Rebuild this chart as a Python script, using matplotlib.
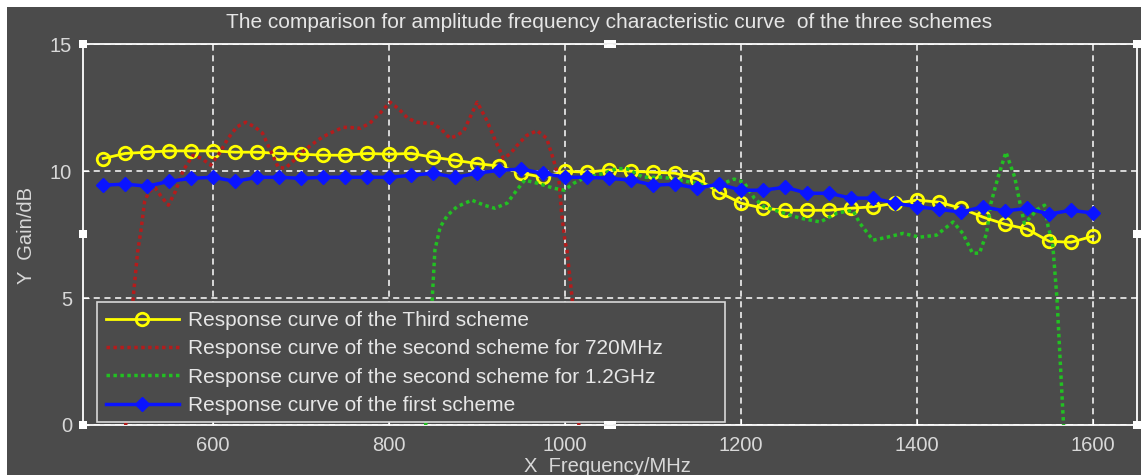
import matplotlib
matplotlib.use("Agg")
import matplotlib.pyplot as plt
from matplotlib.patches import Rectangle
import numpy as np

# ---------------- data ----------------
freq_step = [475, 500, 525, 550, 575, 600, 625, 650, 675, 700, 725, 750, 775, 800, 825, 850,
             875, 900, 925, 950, 975, 1000, 1025, 1050, 1075, 1100, 1125, 1150, 1175, 1200,
             1225, 1250, 1275, 1300, 1325, 1350, 1375, 1400, 1425, 1450, 1475, 1500, 1525,
             1550, 1575, 1600]
third_gain = [10.5, 10.7, 10.75, 10.8, 10.8, 10.8, 10.75, 10.75, 10.7, 10.67, 10.63, 10.63,
              10.7, 10.67, 10.7, 10.55, 10.43, 10.3, 10.2, 9.92, 9.76, 10.0, 9.96, 10.05,
              10.0, 9.96, 9.92, 9.7, 9.17, 8.74, 8.54, 8.46, 8.46, 8.46, 8.54, 8.6, 8.74,
              8.86, 8.78, 8.54, 8.19, 7.91, 7.72, 7.24, 7.2, 7.44]
first_gain = [9.45, 9.49, 9.41, 9.6, 9.72, 9.76, 9.6, 9.76, 9.76, 9.72, 9.76, 9.76, 9.76,
              9.76, 9.84, 9.92, 9.76, 9.92, 10.04, 10.08, 9.92, 9.76, 9.76, 9.72, 9.65,
              9.45, 9.49, 9.33, 9.49, 9.25, 9.25, 9.37, 9.13, 9.13, 8.94, 8.94, 8.74, 8.6,
              8.5, 8.39, 8.6, 8.43, 8.54, 8.31, 8.46, 8.35]

freq_720 = [500, 505, 509, 514, 518, 522, 527, 534, 541, 549, 557, 566, 577, 587, 597, 607,
            617, 627, 637, 647, 656, 664, 674, 682, 691, 701, 712, 724, 736, 748, 757, 767,
            778, 790, 801, 811, 821, 831, 840, 849, 858, 869, 877, 885, 893, 900, 911, 922,
            930, 938, 945, 956, 968, 979, 987, 993, 996, 1000, 1002, 1008, 1012, 1016]
gain_720 = [-0.3, 2.5, 5.0, 6.8, 7.7, 8.8, 9.2, 9.35, 9.0, 8.66, 9.2, 10.04, 10.63, 10.5,
            10.24, 10.7, 11.3, 11.75, 11.93, 11.75, 11.5, 10.9, 10.15, 10.12, 10.4, 10.75,
            11.05, 11.34, 11.55, 11.73, 11.72, 11.69, 11.89, 12.3, 12.72, 12.45, 12.09,
            11.93, 11.9, 11.89, 11.69, 11.3, 11.4, 11.6, 12.2, 12.72, 12.0, 11.1, 10.5,
            10.7, 11.0, 11.4, 11.6, 11.3, 10.43, 9.65, 8.35, 7.2, 6.9, 5.0, 2.5, -0.3]

freq_12g = [841, 846, 849, 852, 858, 866, 877, 894, 908, 920, 934, 945, 954, 968, 987, 999,
            1010, 1021, 1044, 1059, 1070, 1089, 1112, 1143, 1169, 1192, 1203, 1215, 1226,
            1245, 1267, 1290, 1309, 1327, 1335, 1350, 1366, 1384, 1403, 1422, 1441, 1452,
            1463, 1471, 1479, 1484, 1492, 1501, 1511, 1517, 1522, 1528, 1537, 1545, 1549,
            1554, 1559, 1565, 1567]
gain_12g = [-0.3, 2.5, 5.0, 6.9, 7.8, 8.25, 8.6, 8.86, 8.66, 8.54, 8.74, 9.25, 9.65, 9.53,
            9.33, 9.25, 9.53, 9.72, 9.92, 10.1, 10.1, 9.76, 9.76, 9.57, 9.37, 9.69, 9.57,
            8.94, 8.6, 8.39, 8.15, 8.0, 8.35, 8.46, 7.95, 7.28, 7.4, 7.55, 7.4, 7.48, 8.0,
            7.55, 6.77, 6.77, 7.55, 8.74, 9.76, 10.75, 9.76, 8.74, 7.95, 8.15, 8.5, 8.66,
            7.8, 7.2, 5.0, 1.0, -0.3]

x_ticks = [600, 800, 1000, 1200, 1400, 1600]
y_ticks = [0, 5, 10, 15]
labels = ["Response curve of the Third scheme",
          "Response curve of the second scheme for 720MHz",
          "Response curve of the second scheme for 1.2GHz",
          "Response curve of the first scheme"]
title = "The comparison for amplitude frequency characteristic curve  of the three schemes"

# ---------------- style ----------------
BG = "#4b4b4b"
TXT = "#e6e6e6"
W, H = 1141, 475
plt.rcParams["font.family"] = ["Liberation Sans", "DejaVu Sans"]

fig = plt.figure(figsize=(W / 100, H / 100), dpi=100, facecolor="white")
fig.patches.append(Rectangle((7 / W, 0), 1 - 7 / W, 1 - 7 / H, transform=fig.transFigure,
                             facecolor=BG, edgecolor="none", zorder=-10))

ax = fig.add_axes([83 / W, 50 / H, (1137 - 83) / W, (425 - 44.3) / H])
ax.set_facecolor(BG)
ax.set_xlim(452, 1650)
ax.set_ylim(0, 15)

ax.plot(freq_step, third_gain, color="#ffff00", lw=2, marker="o", ms=9,
        mfc="none", mec="#ffff00", mew=2, label=labels[0], zorder=3)
ax.plot(freq_720, gain_720, color="#b41c1c", lw=2.5, ls=(0, (1, 1.0)),
        label=labels[1], zorder=4)
ax.plot(freq_12g, gain_12g, color="#22c022", lw=2.5, ls=(0, (1, 1.0)),
        label=labels[2], zorder=5)
ax.plot(freq_step, first_gain, color="#0a14ff", lw=2.5, marker="D", ms=7,
        mfc="#0a14ff", mec="#0a14ff", label=labels[3], zorder=6)

ax.set_xticks(x_ticks)
ax.set_yticks(y_ticks)
ax.grid(True, color="white", ls=(0, (4, 3)), lw=1.1)
ax.tick_params(direction="in", length=4, color="white", labelcolor="#d8d8d8",
               labelsize=14.5, pad=8)
for s in ax.spines.values():
    s.set_color("white")
    s.set_linewidth(1.3)

# legend box (MATLAB style, drawn as a frame) + legend entries
ax.add_patch(Rectangle((97 / W, 1 - 422 / H), 628 / W, 120 / H, transform=fig.transFigure,
                       facecolor=BG, edgecolor="#d8d8d8", lw=1.2, zorder=9,
                       clip_on=False))
leg = ax.legend(loc="upper left", bbox_to_anchor=((106 - 83) / 1054, (425 - 311) / 380.7),
                borderaxespad=0, borderpad=0, fontsize=15, frameon=False,
                handlelength=3.5, handletextpad=0.45, labelspacing=0.45, numpoints=1)
for t in leg.get_texts():
    t.set_color(TXT)
leg.set_zorder(10)

fig.text(609 / W, 1 - 22 / H, title, ha="center", va="center", color=TXT, fontsize=15)
fig.text(27 / W, 1 - 235 / H, "Y  Gain/dB", ha="center", va="center", rotation=90,
         color="#d8d8d8", fontsize=14.5)
fig.text(607 / W, 1 - 467 / H, "X  Frequency/MHz", ha="center", va="center",
         color="#d8d8d8", fontsize=14.5)

# selection handles
for (px, py) in [(83, 44), (1137, 44), (83, 425), (1137, 425), (83, 234), (1137, 234)]:
    fig.patches.append(Rectangle(((px - 4) / W, 1 - (py + 4) / H), 8 / W, 8 / H,
                                 transform=fig.transFigure, facecolor="white",
                                 edgecolor="none", zorder=20))
for (px, py) in [(610, 44), (610, 425)]:
    for dy in (-3, 2):
        fig.patches.append(Rectangle(((px - 6) / W, 1 - (py + dy + 2) / H), 12 / W, 3 / H,
                                     transform=fig.transFigure, facecolor="white",
                                     edgecolor="none", zorder=20))

fig.savefig("out.png", dpi=100, facecolor=fig.get_facecolor())
